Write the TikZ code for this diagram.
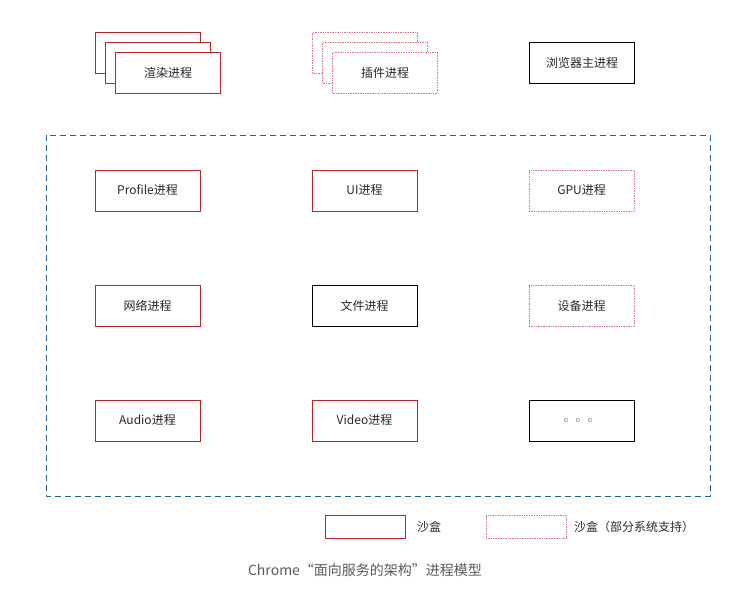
\documentclass[tikz,border=0pt]{standalone}
\usepackage{fontspec}
\usepackage{xcolor}
\setmainfont{Noto Sans CJK SC}
\usetikzlibrary{positioning}
\definecolor{sandbox}{RGB}{180,40,45}
\definecolor{partial}{RGB}{215,120,130}
\definecolor{frame}{RGB}{30,100,140}
\definecolor{textgray}{RGB}{40,40,40}

\begin{document}
\begin{tikzpicture}[
    x=1pt, y=-1pt,
    proc/.style={rectangle, minimum width=105pt, minimum height=41pt, fill=white,
        text=textgray, font=\fontsize{12}{14}\selectfont, inner sep=0pt},
    boxed/.style={proc, draw=sandbox, line width=0.9pt},
    partbox/.style={proc, draw=partial, densely dotted, line width=0.7pt},
    plainbox/.style={proc, draw=black, line width=0.9pt},
    legendtext/.style={anchor=west, text=textgray, font=\fontsize{12}{14}\selectfont, inner sep=0pt}
]
    \useasboundingbox (0,0) rectangle (738,598);

    % top row: stacked processes and browser main process
    \node[boxed] (render3) at (148,52.5) {};
    \node[boxed] (render2) at (158,62.5) {};
    \node[boxed] (render) at (168,72.5) {\raisebox{-1pt}{渲染进程}};
    \node[partbox] (plugin3) at (365,52.5) {};
    \node[partbox] (plugin2) at (375,62.5) {};
    \node[partbox] (plugin) at (385,72.5) {\raisebox{-1pt}{插件进程}};
    \node[plainbox] (browser) at (582,63) {\raisebox{-1pt}{浏览器主进程}};

    % service area
    \draw[frame, line width=1pt, dash pattern=on 6pt off 4pt] (46,135) rectangle (710,496);

    \node[boxed] (profile) at (147.5,190.5) {\raisebox{-1pt}{Profile进程}};
    \node[boxed] (ui) at (364.5,190.5) {\raisebox{-1pt}{UI进程}};
    \node[partbox] (gpu) at (581.5,190.5) {\raisebox{-1pt}{GPU进程}};

    \node[boxed] (network) at (147.5,305.5) {\raisebox{-1pt}{网络进程}};
    \node[plainbox] (file) at (364.5,305.5) {\raisebox{-1pt}{文件进程}};
    \node[partbox] (device) at (581.5,305.5) {\raisebox{-1pt}{设备进程}};

    \node[boxed] (audio) at (147.5,420.5) {\raisebox{-1pt}{Audio进程}};
    \node[boxed] (video) at (364.5,420.5) {\raisebox{-1pt}{Video进程}};
    \node[plainbox, text=gray] (more) at (581.5,420.5) {\raisebox{-1pt}{。。。}};

    % legend
    \node[boxed, minimum width=80pt, minimum height=23pt] (legsand) at (365,526.5) {};
    \node[legendtext] (legsandtext) at (417,527) {沙盒};
    \node[partbox, minimum width=80pt, minimum height=23pt] (legpart) at (526,526.5) {};
    \node[legendtext] (legparttext) at (574,527) {沙盒（部分系统支持）};

    % caption
    \node[text={rgb,255:red,90;green,90;blue,90}, font=\fontsize{14}{16}\selectfont] (caption) at (365,570) {Chrome“面向服务的架构”进程模型};
\end{tikzpicture}
\end{document}
